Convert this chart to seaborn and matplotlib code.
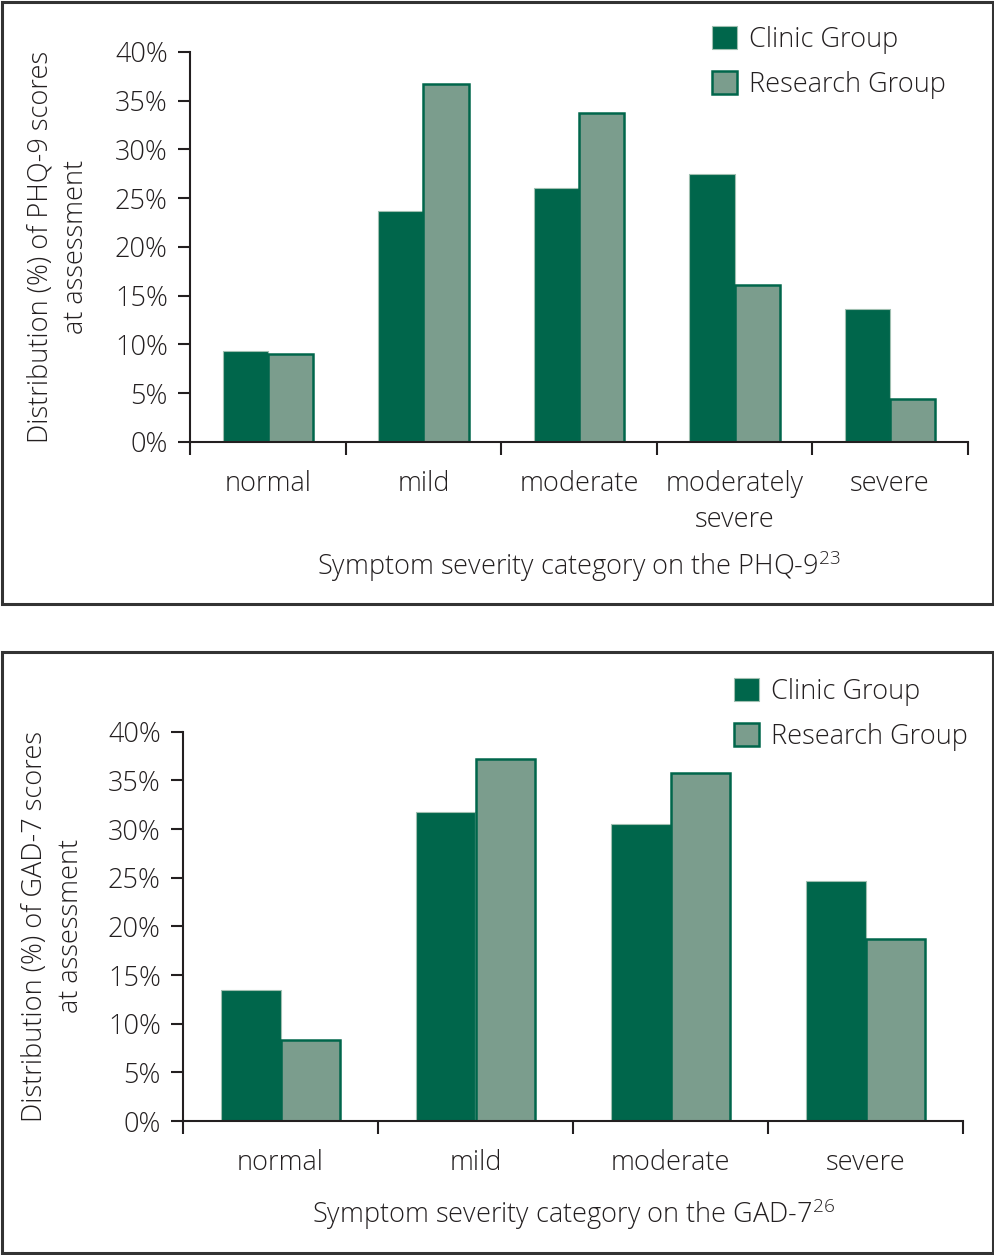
import matplotlib
matplotlib.use("Agg")
import matplotlib.pyplot as plt
from matplotlib.patches import Rectangle, Patch
import seaborn as sns
import pandas as pd

# ---- data ----
groups = ["Clinic Group", "Research Group"]
phq_categories = ["normal", "mild", "moderate", "moderately\nsevere", "severe"]
phq_clinic = [9.3, 23.7, 26.0, 27.5, 13.6]
phq_research = [9.0, 36.7, 33.7, 16.1, 4.4]
gad_categories = ["normal", "mild", "moderate", "severe"]
gad_clinic = [13.5, 31.7, 30.5, 24.7]
gad_research = [8.3, 37.2, 35.8, 18.7]
y_ticks = [0, 5, 10, 15, 20, 25, 30, 35, 40]
y_ticklabels = [f"{v}%" for v in y_ticks]

sns.set_theme(style="white")
FONT = "Open Sans"
plt.rcParams["font.family"] = [FONT, "DejaVu Sans"]
plt.rcParams["font.weight"] = "light"
plt.rcParams["axes.labelweight"] = "light"
plt.rcParams["mathtext.fontset"] = "custom"
plt.rcParams["mathtext.rm"] = FONT + ":light"
plt.rcParams["mathtext.it"] = FONT + ":light"
TXT = "#231f20"
DARK = "#00664b"
LIGHT = "#7b9d8d"
FS = 19.5

W, H = 994, 1255
fig = plt.figure(figsize=(W / 100, H / 100), dpi=100)


def fx(px):
    return px / W


def fy(py):
    return 1 - py / H


def panel(ax_rect, cats, clinic, research, width, ylabel, xlabel, xlabel_y, ylab_x, leg_xy):
    ax = fig.add_axes(ax_rect)
    df = pd.DataFrame({
        "category": cats * 2,
        "value": clinic + research,
        "group": [groups[0]] * len(cats) + [groups[1]] * len(cats),
    })
    sns.barplot(data=df, x="category", y="value", hue="group", order=cats,
                hue_order=groups, palette=[DARK, LIGHT], width=width,
                saturation=1, legend=False, ax=ax)
    for bar in ax.containers[0]:
        bar.set_edgecolor("#9fbfb0")
        bar.set_linewidth(0.8)
    for bar in ax.containers[1]:
        bar.set_edgecolor(DARK)
        bar.set_linewidth(1.8)
    n = len(cats)
    ax.set_xlim(-0.5, n - 0.5)
    ax.set_ylim(0, 40)
    ax.set_yticks(y_ticks)
    ax.set_yticklabels(y_ticklabels, fontsize=FS, color=TXT, fontweight="light")
    ax.set_xticks(range(n))
    ax.set_xticklabels(cats, fontsize=FS, color=TXT, linespacing=1.4, fontweight="light")
    ax.set_xticks([i - 0.5 for i in range(n + 1)], minor=True)
    ax.tick_params(axis="x", which="major", length=0, pad=20)
    ax.tick_params(axis="x", which="minor", length=9, width=1.5, color="#231f20", direction="out", bottom=True)
    ax.tick_params(axis="y", which="major", length=9, width=1.5, color="#231f20", direction="out", left=True, pad=7)
    for s in ["top", "right"]:
        ax.spines[s].set_visible(False)
    for s in ["left", "bottom"]:
        ax.spines[s].set_color("#231f20")
        ax.spines[s].set_linewidth(1.5)
    ax.set_ylabel(ylabel, fontsize=FS, color=TXT, linespacing=1.35, ha="center",
                  va="center", multialignment="center", fontweight="light")
    ax.yaxis.set_label_coords(ylab_x, 0.5)
    ax.set_xlabel(xlabel, fontsize=FS, color=TXT, fontweight="light")
    ax.xaxis.set_label_coords(0.5, xlabel_y)
    handles = [Patch(facecolor=DARK, edgecolor="#9fbfb0", linewidth=0.8),
               Patch(facecolor=LIGHT, edgecolor=DARK, linewidth=1.8)]
    fig.legend(handles, groups, loc="upper left", bbox_to_anchor=leg_xy,
               bbox_transform=fig.transFigure, frameon=False,
               prop={"size": FS, "weight": "light"},
               handlelength=0.92, handleheight=0.92, handletextpad=0.45,
               labelspacing=0.62, borderpad=0, borderaxespad=0, labelcolor=TXT)
    return ax


# top panel
panel([fx(190), fy(442), fx(968) - fx(190), fy(52) - fy(442)],
      phq_categories, phq_clinic, phq_research, 0.58,
      "Distribution (%) of PHQ-9 scores\nat assessment",
      "Symptom severity category on the PHQ-9$^{23}$",
      -(549 - 442) / 390, -(190 - 58) / 778, (fx(712), fy(26)))

# bottom panel
panel([fx(183), fy(1121), fx(963) - fx(183), fy(731.7) - fy(1121)],
      gad_categories, gad_clinic, gad_research, 0.61,
      "Distribution (%) of GAD-7 scores\nat assessment",
      "Symptom severity category on the GAD-7$^{26}$",
      -(1196 - 1121) / 389, -(183 - 53) / 780, (fx(734), fy(678)))

# panel frames
for (y0, y1) in [(2, 604), (652, 1253)]:
    fig.add_artist(Rectangle((fx(1.5), fy(y1)), fx(991), fy(y0) - fy(y1),
                             transform=fig.transFigure, fill=False,
                             linewidth=2.2, edgecolor="#333333"))

fig.savefig("out.png", dpi=100)
